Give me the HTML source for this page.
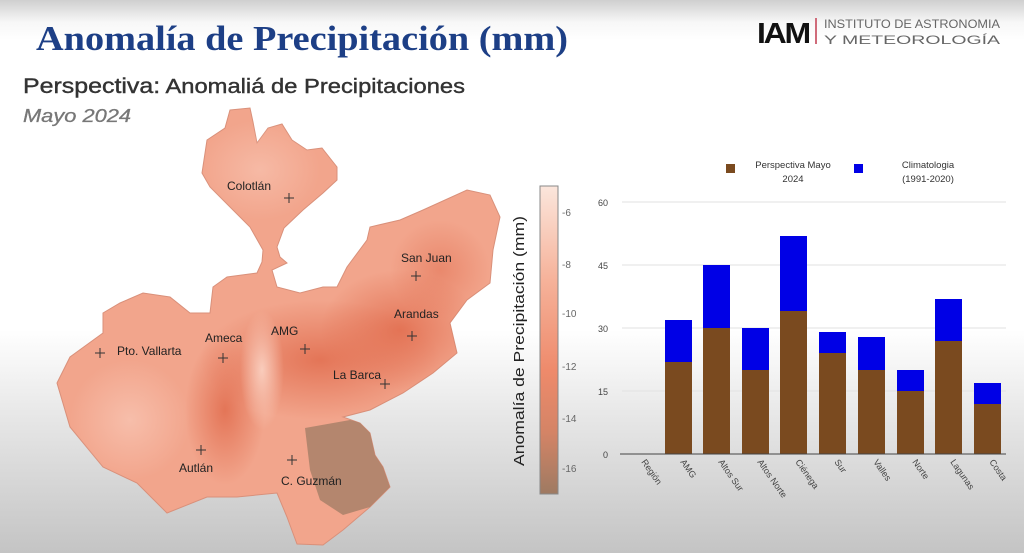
<!DOCTYPE html>
<html><head><meta charset="utf-8"><style>
html,body{margin:0;padding:0;width:1024px;height:553px;overflow:hidden}
body{background:linear-gradient(to bottom,#cfcfcf 0px,#f7f7f7 22px,#fff 40px,#fff 330px,#e6e6e6 420px,#c4c4c4 553px)}
svg{position:absolute;left:0;top:0}
</style></head><body>
<svg width="1024" height="553" viewBox="0 0 1024 553">
<defs>
<linearGradient id="cb" x1="0" y1="0" x2="0" y2="1">
<stop offset="0" stop-color="#fbe6dc"/><stop offset="0.3" stop-color="#f6b39b"/>
<stop offset="0.6" stop-color="#ee8a6b"/><stop offset="0.8" stop-color="#d48466"/>
<stop offset="1" stop-color="#9e7a62"/></linearGradient>
<radialGradient id="dk" cx="0.5" cy="0.5" r="0.5"><stop offset="0" stop-color="#e0694a" stop-opacity="0.8"/><stop offset="1" stop-color="#e0694a" stop-opacity="0"/></radialGradient>
<radialGradient id="lt" cx="0.5" cy="0.5" r="0.5"><stop offset="0" stop-color="#fbd3c4" stop-opacity="0.9"/><stop offset="1" stop-color="#fbd3c4" stop-opacity="0"/></radialGradient>
<clipPath id="mc"><path id="mp" d="M230,110 L250,108 L253,122 L257,143 L268,128 L282,124 L292,140 L307,150 L322,148 L337,167 L337,180 L323,193 L303,210 L284,228 L277,247 L280,257 L287,263 L272,270 L277,287 L300,293 L323,287 L337,287 L347,267 L367,240 L370,227 L400,220 L423,210 L467,190 L490,195 L500,217 L493,250 L490,283 L467,300 L450,323 L457,353 L433,373 L403,393 L370,410 L343,417 L360,423 L370,433 L375,455 L383,467 L390,487 L370,507 L343,530 L323,545 L297,544 L287,517 L277,493 L237,497 L207,497 L167,513 L137,483 L103,467 L70,427 L57,383 L70,357 L103,333 L103,313 L120,303 L143,293 L170,297 L190,313 L210,313 L213,287 L227,277 L257,273 L262,262 L263,250 L250,227 L230,207 L210,187 L202,173 L207,140 L225,128 Z"/></clipPath>
</defs>

<text x="36" y="50" font-family="Liberation Serif,serif" font-weight="bold" font-size="35" fill="#1d3f86" textLength="532" lengthAdjust="spacingAndGlyphs">Anomalía de Precipitación (mm)</text>
<text x="23" y="93" font-family="Liberation Sans,sans-serif" font-size="20" fill="#333" stroke="#333" stroke-width="0.4" textLength="442" lengthAdjust="spacingAndGlyphs"><tspan font-size="21">Perspectiva:</tspan> Anomaliá de Precipitaciones</text>
<text x="23" y="122" font-family="Liberation Sans,sans-serif" font-style="italic" font-size="18" fill="#777" stroke="#777" stroke-width="0.3" textLength="108" lengthAdjust="spacingAndGlyphs">Mayo 2024</text>

<!-- logo -->
<text x="757" y="43" font-family="Liberation Sans,sans-serif" font-weight="bold" font-size="29" fill="#111" textLength="52" lengthAdjust="spacingAndGlyphs" letter-spacing="-2">IAM</text>
<rect x="815" y="18" width="2" height="26" fill="#d06b7a"/>
<text x="824" y="28" font-family="Liberation Sans,sans-serif" font-size="12" fill="#666" textLength="176" lengthAdjust="spacingAndGlyphs">INSTITUTO DE ASTRONOMIA</text>
<text x="824" y="44" font-family="Liberation Sans,sans-serif" font-size="12" fill="#666" textLength="176" lengthAdjust="spacingAndGlyphs">Y METEOROLOGÍA</text>

<!-- map -->
<use href="#mp" fill="#f2a58c" stroke="#d9907a" stroke-width="1"/>
<g clip-path="url(#mc)">
<ellipse cx="320" cy="360" rx="120" ry="60" fill="url(#dk)"/>
<ellipse cx="225" cy="410" rx="40" ry="75" fill="url(#dk)"/>
<ellipse cx="400" cy="330" rx="80" ry="60" fill="url(#dk)"/>
<ellipse cx="440" cy="270" rx="50" ry="50" fill="url(#dk)" opacity="0.6"/>
<ellipse cx="262" cy="370" rx="22" ry="60" fill="url(#lt)"/>
<ellipse cx="130" cy="420" rx="60" ry="60" fill="url(#lt)" opacity="0.6"/>
<ellipse cx="260" cy="170" rx="60" ry="50" fill="url(#lt)" opacity="0.5"/>
<path d="M305,428 L350,420 L372,425 L375,455 L383,467 L390,487 L370,507 L343,515 L320,500 L310,470 Z" fill="#a98069" opacity="0.85"/>
</g>
<g font-family="Liberation Sans,sans-serif" font-size="12" fill="#222" stroke="#333">
<g stroke-width="1"><path d="M284,198h10M289,193v10 M411,276h10M416,271v10 M407,336h10M412,331v10 M300,349h10M305,344v10 M218,358h10M223,353v10 M95,353h10M100,348v10 M380,384h10M385,379v10 M196,450h10M201,445v10 M287,460h10M292,455v10"/></g>
<g stroke="none">
<text x="227" y="190">Colotlán</text><text x="401" y="262">San Juan</text><text x="394" y="318">Arandas</text>
<text x="271" y="335">AMG</text><text x="205" y="342">Ameca</text><text x="117" y="355">Pto. Vallarta</text>
<text x="333" y="379">La Barca</text><text x="179" y="472">Autlán</text><text x="281" y="485">C. Guzmán</text>
</g></g>

<!-- colorbar -->
<rect x="540" y="186" width="18" height="308" fill="url(#cb)" stroke="#888" stroke-width="1"/>
<g font-family="Liberation Sans,sans-serif" font-size="10" fill="#666">
<text x="562" y="216">-6</text><text x="562" y="268">-8</text><text x="562" y="317">-10</text>
<text x="562" y="370">-12</text><text x="562" y="422">-14</text><text x="562" y="472">-16</text>
</g>
<text transform="translate(524,466) rotate(-90)" font-family="Liberation Sans,sans-serif" font-size="15" fill="#222" textLength="250" lengthAdjust="spacingAndGlyphs">Anomalía de Precipitación (mm)</text>

<!-- bar chart -->
<g stroke="#e2e2e2" stroke-width="1">
<line x1="622" y1="202" x2="1006" y2="202"/><line x1="622" y1="265" x2="1006" y2="265"/>
<line x1="622" y1="328" x2="1006" y2="328"/><line x1="622" y1="391" x2="1006" y2="391"/>
</g>
<g font-family="Liberation Sans,sans-serif" font-size="9" fill="#444" text-anchor="end">
<text x="608" y="206">60</text><text x="608" y="269">45</text><text x="608" y="332">30</text><text x="608" y="395">15</text><text x="608" y="458">0</text>
</g>
<g>
<rect x="665" y="362" width="27" height="92" fill="#7a4a1f"/><rect x="665" y="320" width="27" height="42" fill="#0000e6"/>
<rect x="703" y="328" width="27" height="126" fill="#7a4a1f"/><rect x="703" y="265" width="27" height="63" fill="#0000e6"/>
<rect x="742" y="370" width="27" height="84" fill="#7a4a1f"/><rect x="742" y="328" width="27" height="42" fill="#0000e6"/>
<rect x="780" y="311" width="27" height="143" fill="#7a4a1f"/><rect x="780" y="236" width="27" height="75" fill="#0000e6"/>
<rect x="819" y="353" width="27" height="101" fill="#7a4a1f"/><rect x="819" y="332" width="27" height="21" fill="#0000e6"/>
<rect x="858" y="370" width="27" height="84" fill="#7a4a1f"/><rect x="858" y="337" width="27" height="33" fill="#0000e6"/>
<rect x="897" y="391" width="27" height="63" fill="#7a4a1f"/><rect x="897" y="370" width="27" height="21" fill="#0000e6"/>
<rect x="935" y="341" width="27" height="113" fill="#7a4a1f"/><rect x="935" y="299" width="27" height="42" fill="#0000e6"/>
<rect x="974" y="404" width="27" height="50" fill="#7a4a1f"/><rect x="974" y="383" width="27" height="21" fill="#0000e6"/>
</g>
<line x1="620" y1="454" x2="1006" y2="454" stroke="#444" stroke-width="1"/>
<g font-family="Liberation Sans,sans-serif" font-size="9" fill="#444">
<text transform="translate(641,462) rotate(55)">Región</text>
<text transform="translate(680,462) rotate(55)">AMG</text>
<text transform="translate(718,462) rotate(55)">Altos Sur</text>
<text transform="translate(757,462) rotate(55)">Altos Norte</text>
<text transform="translate(795,462) rotate(55)">Ciénega</text>
<text transform="translate(834,462) rotate(55)">Sur</text>
<text transform="translate(873,462) rotate(55)">Valles</text>
<text transform="translate(912,462) rotate(55)">Norte</text>
<text transform="translate(950,462) rotate(55)">Lagunas</text>
<text transform="translate(989,462) rotate(55)">Costa</text>
</g>
<rect x="726" y="164" width="9" height="9" fill="#7a4a1f"/>
<rect x="854" y="164" width="9" height="9" fill="#0000e6"/>
<g font-family="Liberation Sans,sans-serif" font-size="9.5" fill="#333" text-anchor="middle">
<text x="793" y="168">Perspectiva Mayo</text><text x="793" y="182">2024</text>
<text x="928" y="168">Climatologia</text><text x="928" y="182">(1991-2020)</text>
</g>
</svg>
</body></html>
